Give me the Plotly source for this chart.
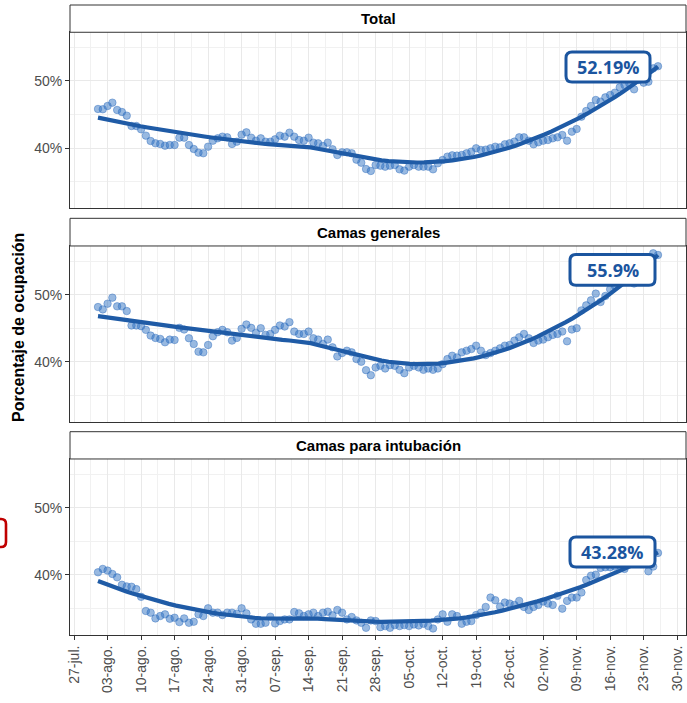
import numpy as np
import pandas as pd
import plotly.graph_objects as go

# ---------------- data ----------------
dates = pd.date_range("2020-08-01", "2020-11-26", freq="D")

total = [45.84, 45.8, 46.29, 46.78, 45.69, 45.39, 44.85, 43.31, 43.31, 42.82,
         41.88, 41.08, 40.74, 40.64, 40.39, 40.49, 40.49, 41.58, 41.58, 40.49,
         39.9, 39.35, 39.26, 40.24, 41.13, 41.48, 41.73, 41.63, 40.64, 40.98,
         42.02, 42.37, 41.58, 41.13, 41.48, 40.98, 40.98, 41.33, 41.88, 41.73,
         42.32, 41.73, 41.23, 41.13, 41.58, 40.84, 40.74, 40.34, 40.84, 39.85,
         39.0, 39.4, 39.4, 39.26, 38.31, 37.86, 36.92, 36.63, 37.52,
         37.42, 37.27, 37.42, 37.52, 36.87, 36.68, 37.27, 37.52, 37.27, 37.27,
         37.27, 36.87, 37.77, 38.26, 38.76, 38.95, 38.91, 39.0, 39.25, 39.5,
         40.0, 39.75, 39.8, 40.0, 40.24, 40.14, 40.59, 40.74, 40.99, 41.63,
         41.63, 41.13, 40.59, 40.89, 41.13, 41.23, 41.48, 41.63, 41.98, 41.13,
         42.47, 42.87, 44.70, 45.54, 46.29, 47.18, 46.93, 47.57, 47.92, 48.27,
         49.06, 49.41, 49.65, 48.76, 50.15, 49.75, 49.9, 51.88, 52.19]

generales = [48.15, 47.8, 48.65, 49.55, 48.25, 48.25, 47.55, 45.4, 45.4, 45.3,
             44.75, 43.9, 43.55, 43.4, 42.9, 43.3, 43.25, 45.05, 44.8, 43.5,
             42.65, 41.5, 41.4, 42.5, 43.8, 44.4, 44.75, 44.4, 43.15, 43.55,
             44.9, 45.55, 45.05, 44.3, 45.0, 44.0, 44.15, 44.75, 45.4, 45.25,
             45.9, 44.5, 44.15, 44.15, 44.5, 43.5, 43.3, 42.65, 43.3, 42.15,
             40.8, 41.3, 41.65, 41.4, 40.4, 40.0, 38.75, 38.0, 39.15,
             39.4, 39.0, 39.5, 39.4, 38.8, 38.3, 39.15, 39.4, 39.15, 38.8,
             39.0, 38.8, 39.0, 39.65, 40.4, 40.9, 40.65, 41.4, 41.65, 41.9,
             42.4, 41.65, 41.0, 41.3, 41.65, 42.0, 42.4, 42.5, 43.15, 43.65,
             44.15, 43.5, 42.8, 43.15, 43.3, 43.65, 44.0, 44.15, 44.5, 43.05,
             44.8, 45.0, 47.65, 48.4, 49.15, 50.15, 48.9, 49.8, 50.8, 51.3,
             51.9, 52.15, 52.65, 51.65, 53.15, 53.9, 54.4, 56.15, 55.9]

intubacion = [40.4, 40.9, 40.65, 40.15, 39.65, 38.55, 38.3, 38.25, 37.9, 36.75,
              34.65, 34.4, 33.55, 33.9, 34.15, 33.5, 33.65, 33.0, 33.55, 32.9,
              33.05, 34.15, 33.9, 35.05, 34.4, 34.4, 34.05, 34.4, 34.4, 34.25,
              35.05, 34.3, 33.4, 32.75, 32.75, 32.9, 33.8, 32.8, 33.15, 33.4,
              33.4, 34.5, 34.3, 33.9, 34.15, 34.4, 33.9, 34.4, 34.55, 34.0,
              34.8, 34.4, 33.4, 33.75, 33.25, 32.9, 32.15, 33.25, 33.15,
              32.25, 32.4, 32.15, 32.55, 32.4, 32.55, 32.4, 32.65, 32.5, 32.75,
              32.4, 32.05, 33.4, 34.15, 33.05, 34.15, 33.9, 32.75, 33.05, 33.15,
              34.05, 34.4, 35.25, 36.65, 36.25, 35.3, 35.9, 35.75, 35.55, 36.15,
              35.25, 34.8, 35.25, 35.55, 36.05, 35.75, 35.55, 36.9, 35.0, 36.15,
              36.65, 36.65, 37.4, 39.25, 39.9, 40.05, 41.05, 41.15, 41.15, 41.25,
              41.4, 40.9, 41.65, 41.9, 42.4, 42.75, 40.55, 41.25, 43.28]

panel_titles = ["Total", "Camas generales", "Camas para intubación"]
last_labels = ["52.19%", "55.9%", "43.28%"]
tick_dates = pd.date_range("2020-07-27", "2020-11-30", freq="7D")
tick_text = ["27-jul.", "03-ago.", "10-ago.", "17-ago.", "24-ago.", "31-ago.",
             "07-sep.", "14-sep.", "21-sep.", "28-sep.", "05-oct.", "12-oct.",
             "19-oct.", "26-oct.", "02-nov.", "09-nov.", "16-nov.", "23-nov.",
             "30-nov."]
y_ticks = [40, 50]
y_tick_text = ["40%", "50%"]
y_title = "Porcentaje de ocupación"

series = [total, generales, intubacion]


# ---------------- loess smoother (like geom_smooth) ----------------
def loess(x, y, xs, span=0.75):
    x = np.asarray(x, float)
    y = np.asarray(y, float)
    n = len(x)
    q = int(np.floor(n * span))
    out = []
    for x0 in xs:
        d = np.abs(x - x0)
        h = np.sort(d)[q - 1]
        w = np.clip(1 - (d / h) ** 3, 0, None) ** 3
        X = np.vstack([np.ones_like(x), x - x0, (x - x0) ** 2]).T
        sw = np.sqrt(w)
        beta = np.linalg.lstsq(X * sw[:, None], y * sw, rcond=None)[0]
        out.append(beta[0])
    return np.array(out)


xnum = (dates - dates[0]).days.values.astype(float)
xs = np.linspace(xnum.min(), xnum.max(), 80)
xs_dates = dates[0] + pd.to_timedelta(xs, unit="D")

# ---------------- styling ----------------
W, H = 687, 703
ML, MR, MT, MB = 70, 1, 5, 68
PH = H - MT - MB
PW = W - ML - MR
panel_dom = [[0.6773, 0.9567], [0.3386, 0.6175], [0.0, 0.2794]]
strip_dom = [[0.9567, 1.0], [0.6175, 0.6614], [0.2794, 0.3227]]

point_fill = "rgba(50,115,195,0.5)"
point_edge = "rgba(45,108,188,0.55)"
line_col = "#1f5ba6"
lab_col = "#1b559f"
grid_major = "#e9e9e9"
grid_minor = "#f1f1f1"
frame = "#333333"
tick_font = dict(family="Liberation Sans, Arial, sans-serif", size=14, color="#4d4d4d")

x_range = [pd.Timestamp("2020-07-26 03:36"), pd.Timestamp("2020-12-01 20:24")]
minor_x = [d + pd.Timedelta(hours=84) for d in tick_dates[:-1]]

# label box geometry (pixels relative to last point): x0, x1, y0, y1 (y up)
boxes = [(-92, -8, -15.7, 14.3), (-88, -3, -30.2, 0.5), (-88, -3, -14.2, 15.8)]


def rounded_path(x0, x1, y0, y1, r):
    return (f"M {x0 + r},{y0} L {x1 - r},{y0} Q {x1},{y0} {x1},{y0 + r} "
            f"L {x1},{y1 - r} Q {x1},{y1} {x1 - r},{y1} L {x0 + r},{y1} "
            f"Q {x0},{y1} {x0},{y1 - r} L {x0},{y0 + r} Q {x0},{y0} {x0 + r},{y0} Z")


fig = go.Figure()
shapes = []
annotations = []

for i, vals in enumerate(series):
    ax = "" if i == 0 else str(i + 1)
    fig.add_trace(go.Scatter(
        x=dates, y=vals, mode="markers", xaxis="x" + ax, yaxis="y" + ax,
        marker=dict(size=7.5, color=point_fill, line=dict(color=point_edge, width=0.8)),
        showlegend=False, hoverinfo="skip"))
    smooth = loess(xnum, vals, xs)
    fig.add_trace(go.Scatter(
        x=xs_dates, y=smooth, mode="lines", xaxis="x" + ax, yaxis="y" + ax,
        line=dict(color=line_col, width=4.2), showlegend=False, hoverinfo="skip"))

    fig.update_layout(**{
        "xaxis" + ax: dict(
            domain=[0, 1], anchor="y" + ax, range=x_range, type="date",
            tickvals=list(tick_dates), ticktext=tick_text,
            showticklabels=(i == 2), ticks="outside" if i == 2 else "",
            ticklen=4, tickcolor=frame, tickangle=-90, tickfont=tick_font,
            showgrid=True, gridcolor=grid_major, gridwidth=1.1,
            minor=dict(tickvals=minor_x, showgrid=True, gridcolor=grid_minor, gridwidth=0.8),
            showline=True, mirror=True, linecolor=frame, linewidth=1,
            zeroline=False, fixedrange=True, automargin=False,
            **({} if i == 2 else {"matches": "x3"})),
        "yaxis" + ax: dict(
            domain=panel_dom[i], anchor="x" + ax, range=[31.08, 57.24],
            tickvals=y_ticks, ticktext=y_tick_text, ticks="outside", ticklen=4,
            tickcolor=frame, tickfont=tick_font,
            showgrid=True, gridcolor=grid_major, gridwidth=1.1,
            minor=dict(tickvals=[35, 45, 55], showgrid=True, gridcolor=grid_minor, gridwidth=0.8),
            showline=True, mirror=True, linecolor=frame, linewidth=1,
            zeroline=False, fixedrange=True, automargin=False),
    })

    # strip
    shapes.append(dict(type="rect", xref="paper", yref="paper", x0=0, x1=1,
                       y0=strip_dom[i][0], y1=strip_dom[i][1],
                       fillcolor="white", line=dict(color=frame, width=1), layer="above"))
    annotations.append(dict(text=panel_titles[i], xref="paper", yref="paper", x=0.5,
                            y=sum(strip_dom[i]) / 2, showarrow=False,
                            xanchor="center", yanchor="middle",
                            font=dict(family="Liberation Sans, Arial, sans-serif",
                                      size=15, color="black", weight="bold")))

    # last-value label
    bx0, bx1, by0, by1 = boxes[i]
    last_x = dates[-1].strftime("%Y-%m-%d")
    last_y = vals[-1]
    shapes.append(dict(type="path", xref="x" + ax, yref="y" + ax,
                       xsizemode="pixel", ysizemode="pixel",
                       xanchor=last_x, yanchor=last_y,
                       path=rounded_path(bx0, bx1, by0, by1, 6),
                       fillcolor="white", line=dict(color=lab_col, width=3), layer="above"))
    annotations.append(dict(text=last_labels[i], xref="x" + ax, yref="y" + ax,
                            x=last_x, y=last_y, showarrow=False,
                            xshift=(bx0 + bx1) / 2, yshift=(by0 + by1) / 2,
                            xanchor="center", yanchor="middle",
                            font=dict(family="Open Sans, sans-serif", size=18,
                                      color=lab_col, weight="bold")))

# y axis title
annotations.append(dict(text=y_title, xref="paper", yref="paper",
                        x=(18 - ML) / PW, y=(635 - 328) / PH,
                        showarrow=False, textangle=-90, xanchor="center", yanchor="middle",
                        font=dict(family="Liberation Sans, Arial, sans-serif",
                                  size=16, color="black", weight="bold")))

# red frame fragment at the left edge of the picture
rx0, rx1 = (-8 - ML) / PW, (6 - ML) / PW
ry0, ry1 = (635 - 547) / PH, (635 - 519) / PH
rr_x, rr_y = 5 / PW, 5 / PH
shapes.append(dict(type="path", xref="paper", yref="paper",
                   path=(f"M {rx0},{ry0} L {rx1 - rr_x},{ry0} Q {rx1},{ry0} {rx1},{ry0 + rr_y} "
                         f"L {rx1},{ry1 - rr_y} Q {rx1},{ry1} {rx1 - rr_x},{ry1} L {rx0},{ry1}"),
                   line=dict(color="#c00000", width=2.6)))

fig.update_layout(
    width=W, height=H, margin=dict(l=ML, r=MR, t=MT, b=MB, autoexpand=False),
    paper_bgcolor="white", plot_bgcolor="white",
    shapes=shapes, annotations=annotations, showlegend=False,
)

fig.write_html("out.html", config={"displayModeBar": False},
               post_script="document.body.style.margin='0';document.body.style.overflow='hidden';")
